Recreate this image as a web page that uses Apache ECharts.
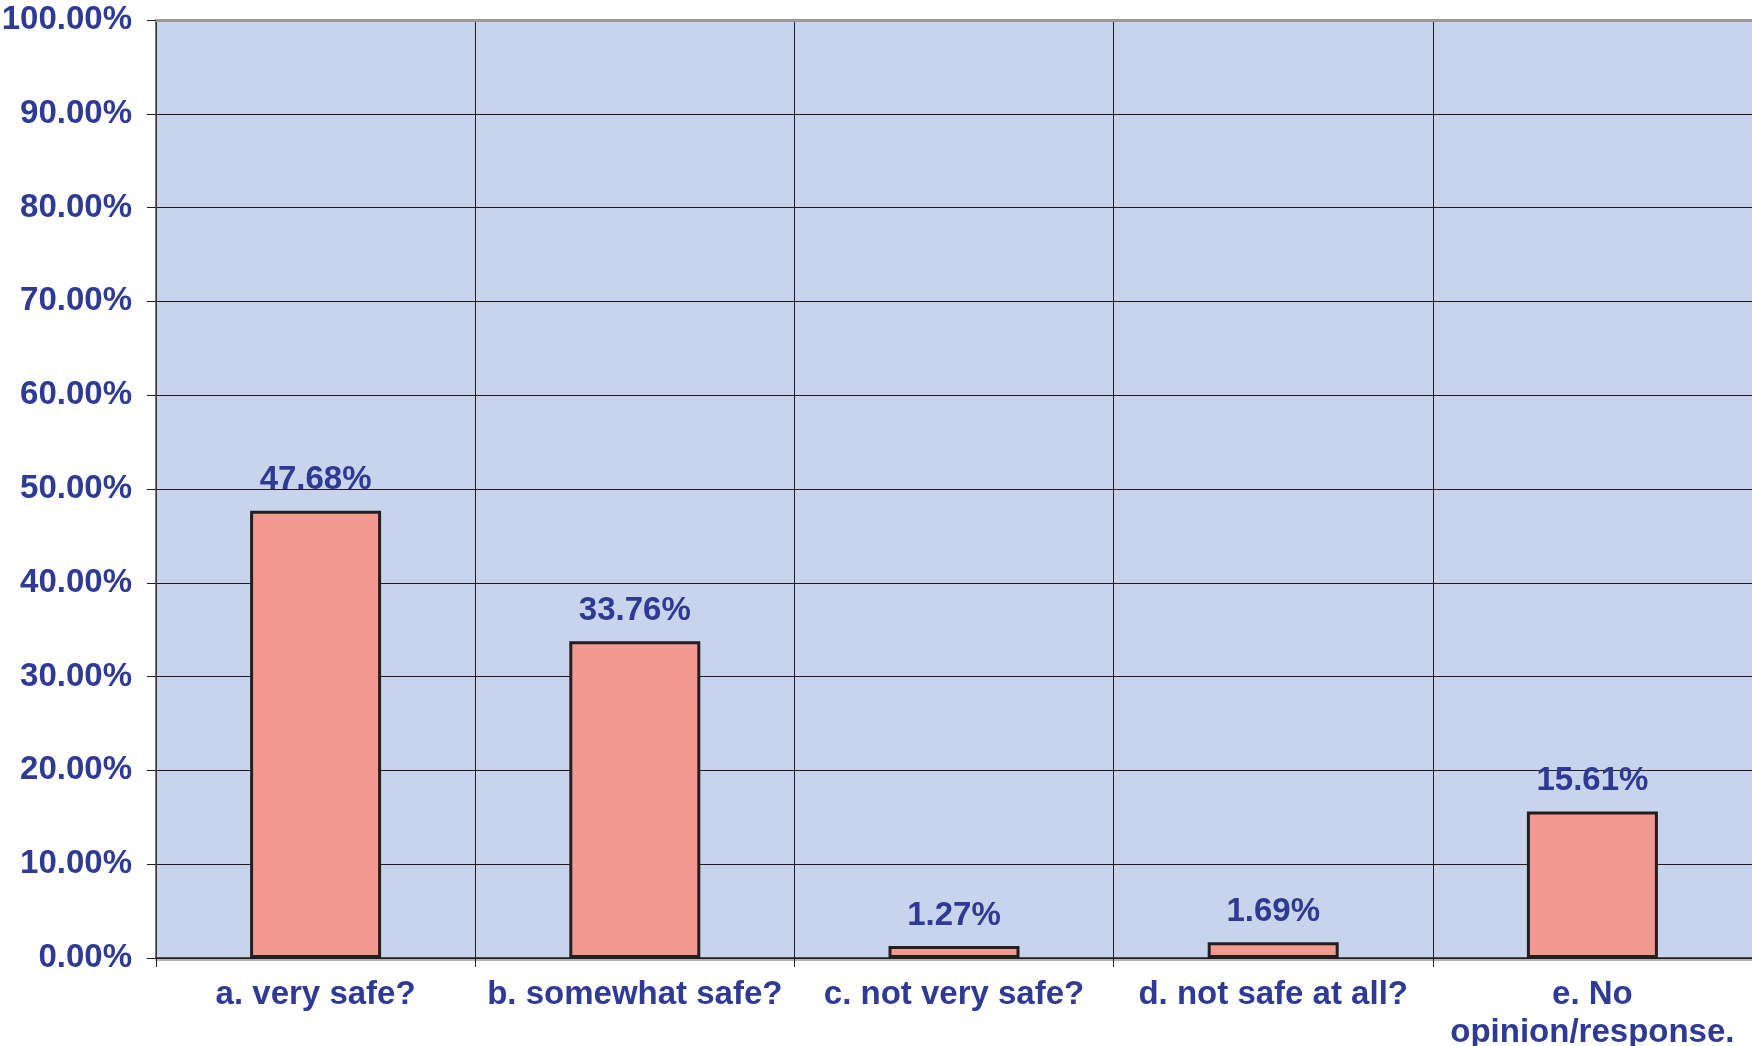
<!DOCTYPE html>
<html>
<head>
<meta charset="utf-8">
<script src="https://cdn.jsdelivr.net/npm/echarts@6/dist/echarts.min.js"></script>
<style>
  html, body { margin: 0; padding: 0; background: #fff; }
  #graph { width: 1752px; height: 1046px; }
</style>
</head>
<body>
<div id="graph"></div>
<script>
// survey answers and their shares (percent)
let categories = ['a. very safe?', 'b. somewhat safe?', 'c. not very safe?', 'd. not safe at all?', 'e. No\nopinion/response.'];
let shares = [47.68, 33.76, 1.27, 1.69, 15.61];

let textBlue = '#2E3A94';
let font = '"Liberation Sans", Arial, sans-serif';

let myChart = echarts.init(document.getElementById('graph'));

let option = {
    animation: false,
    textStyle: { fontFamily: font },
    grid: {
        left: 156, right: 0, top: 20, bottom: 88,
        outerBoundsMode: 'none',
        show: true,
        backgroundColor: '#C8D4EB',
        borderWidth: 0
    },
    xAxis: [{
        type: 'category',
        data: categories,
        axisLine: {
            lineStyle: { color: '#231F20', width: 1.5, shadowColor: '#999', shadowOffsetY: 2, shadowBlur: 0 }
        },
        axisTick: { show: true, length: 9, lineStyle: { color: '#231F20', width: 1 } },
        splitLine: { show: true, lineStyle: { color: '#231F20', width: 1 } },
        axisLabel: {
            color: textBlue, fontWeight: 'bold', fontSize: 33, fontFamily: font,
            margin: 18, lineHeight: 38, interval: 0
        }
    }, {
        // top border of the plot
        type: 'category',
        position: 'top',
        data: categories,
        axisLine: { lineStyle: { color: '#999999', width: 3 } },
        axisTick: { show: false },
        axisLabel: { show: false }
    }],
    yAxis: {
        type: 'value',
        min: 0, max: 100, interval: 10,
        axisLine: { show: true, lineStyle: { color: '#444', width: 1.5 } },
        axisTick: { show: true, length: 9, lineStyle: { color: '#231F20', width: 1 } },
        splitLine: { show: true, lineStyle: { color: '#231F20', width: 1.2 } },
        axisLabel: {
            color: textBlue, fontWeight: 'bold', fontSize: 33, fontFamily: font, margin: 24,
            formatter: v => v.toFixed(2) + '%'
        }
    },
    series: [{
        type: 'bar',
        data: shares,
        barWidth: 131,
        itemStyle: { color: '#F4998F', borderColor: '#231F20', borderWidth: 3 },
        label: {
            show: true, position: 'top', distance: 14,
            color: textBlue, fontWeight: 'bold', fontSize: 33, fontFamily: font,
            formatter: p => p.value.toFixed(2) + '%'
        }
    }]
};
myChart.setOption(option);
</script>
</body>
</html>
